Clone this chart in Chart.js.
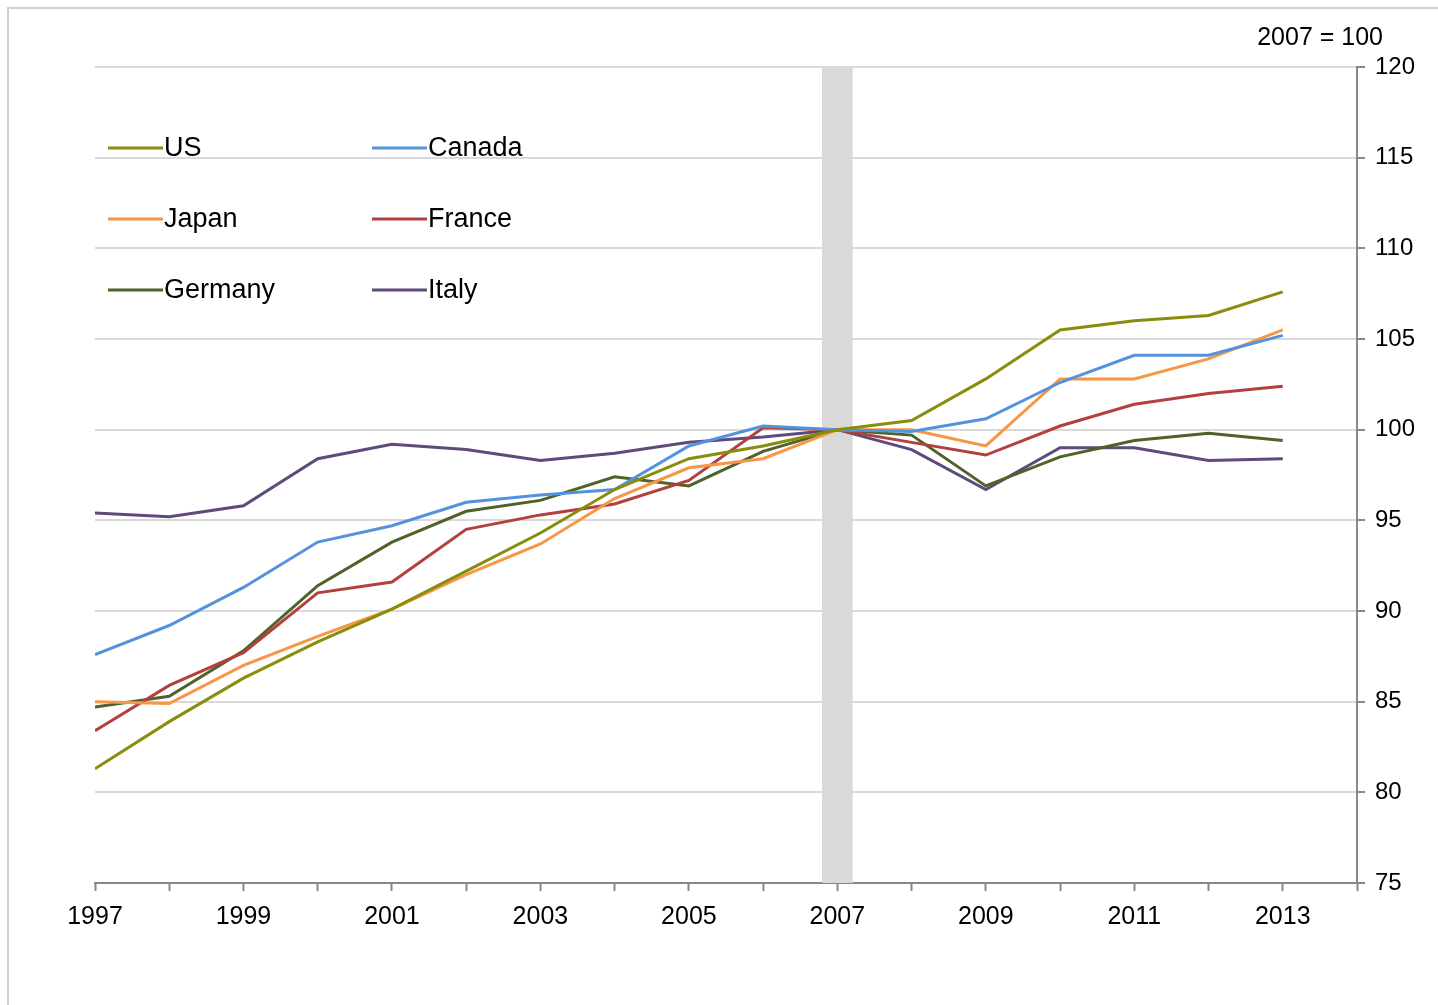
<!DOCTYPE html>
<html>
<head>
    <meta charset="utf-8" />
    <title>GDP index, 2007 = 100</title>
    <script src="https://cdn.jsdelivr.net/npm/chart.js@4.4.0/dist/chart.umd.min.js"></script>
    <style>
        body {
            margin: 0;
            background: #fff;
        }

        #frame {
            position: absolute;
            left: 7px;
            top: 7px;
            width: 1431px;
            height: 998px;
            border-left: 2px solid #d0d0d0;
            border-top: 2px solid #d0d0d0;
        }

        #wrap {
            position: absolute;
            left: 2px;
            top: 2px;
            width: 1420px;
            height: 992px;
        }
    </style>
</head>

<body>
    <div id="frame">
        <div id="wrap"><canvas id="myChart"></canvas></div>
    </div>
    <script>
        // years on the x axis, 2007 = 100
        var years = [1997, 1998, 1999, 2000, 2001, 2002, 2003, 2004, 2005, 2006, 2007, 2008, 2009, 2010, 2011, 2012, 2013];
        var tickYears = [1997, 1999, 2001, 2003, 2005, 2007, 2009, 2011, 2013];
        var baseYear = 2007;

        var US = [81.3, 83.9, 86.3, 88.3, 90.1, 92.2, 94.3, 96.7, 98.4, 99.1, 100, 100.5, 102.8, 105.5, 106.0, 106.3, 107.6];
        var Canada = [87.6, 89.2, 91.3, 93.8, 94.7, 96.0, 96.4, 96.7, 99.1, 100.2, 100, 99.9, 100.6, 102.6, 104.1, 104.1, 105.2];
        var Japan = [85.0, 84.9, 87.0, 88.6, 90.1, 92.0, 93.7, 96.2, 97.9, 98.4, 100, 100.0, 99.1, 102.8, 102.8, 103.9, 105.5];
        var France = [83.4, 85.9, 87.7, 91.0, 91.6, 94.5, 95.3, 95.9, 97.2, 100.1, 100, 99.3, 98.6, 100.2, 101.4, 102.0, 102.4];
        var Germany = [84.7, 85.3, 87.8, 91.4, 93.8, 95.5, 96.1, 97.4, 96.9, 98.8, 100, 99.7, 96.9, 98.5, 99.4, 99.8, 99.4];
        var Italy = [95.4, 95.2, 95.8, 98.4, 99.2, 98.9, 98.3, 98.7, 99.3, 99.6, 100, 98.9, 96.7, 99.0, 99.0, 98.3, 98.4];

        var names = ["US", "Canada", "Japan", "France", "Germany", "Italy"];
        var series = [US, Canada, Japan, France, Germany, Italy];
        var colors = ['#8a8c0c', '#5592dd', '#f79646', '#b2403f', '#4f6228', '#5f4a7b'];

        var yMin = 75, yMax = 120, yStep = 5;

        function points(vals) {
            return vals.map(function (v, i) { return { x: years[i], y: v }; });
        }

        var datasets = series.map(function (vals, i) {
            return {
                type: 'line',
                label: names[i],
                data: points(vals),
                borderColor: colors[i],
                backgroundColor: colors[i],
                borderWidth: 3,
                pointRadius: 0,
                tension: 0,
                order: 1
            };
        });

        // grey band marking the base year
        datasets.push({
            type: 'bar',
            label: 'base',
            data: [{ x: baseYear, y: [yMin, yMax] }],
            backgroundColor: '#d9d9d9',
            borderWidth: 0,
            barThickness: 30,
            order: 10
        });

        var font = "'Liberation Sans', Arial, sans-serif";

        // legend in two columns inside the plot + unit note
        var legendInPlot = {
            id: 'legendInPlot',
            afterDraw: function (chart) {
                var ctx = chart.ctx;
                var a = chart.chartArea;
                ctx.save();
                ctx.font = "27px " + font;
                ctx.textBaseline = 'middle';
                ctx.textAlign = 'left';
                for (var i = 0; i < names.length; i++) {
                    var col = i % 2, row = Math.floor(i / 2);
                    var x = a.left + 13 + col * 264;
                    var y = a.top + 81 + row * 71;
                    ctx.strokeStyle = colors[i];
                    ctx.lineWidth = 3;
                    ctx.beginPath();
                    ctx.moveTo(x, y);
                    ctx.lineTo(x + 55, y);
                    ctx.stroke();
                    ctx.fillStyle = '#000';
                    ctx.fillText(names[i], x + 56, y + 1);
                }
                ctx.font = "25px " + font;
                ctx.textAlign = 'right';
                ctx.fillText(baseYear + ' = 100', a.right + 26, a.top - 29);
                ctx.restore();
            }
        };

        new Chart(document.getElementById('myChart'), {
            data: { datasets: datasets },
            options: {
                responsive: true,
                maintainAspectRatio: false,
                animation: false,
                layout: { padding: { left: 84, top: 56, right: 0, bottom: 0 } },
                plugins: {
                    legend: { display: false },
                    tooltip: { enabled: false }
                },
                scales: {
                    x: {
                        type: 'linear',
                        offset: false,
                        min: years[0],
                        max: years[years.length - 1] + 1,
                        afterFit: function (s) { s.height = 120; },
                        afterBuildTicks: function (s) {
                            var t = [];
                            for (var y = s.min; y <= s.max; y++) t.push({ value: y });
                            s.ticks = t;
                        },
                        ticks: {
                            autoSkip: false,
                            maxRotation: 0,
                            padding: 11,
                            color: '#000',
                            font: { size: 25, family: font },
                            callback: function (v) { return tickYears.indexOf(v) >= 0 ? String(v) : ''; }
                        },
                        grid: { offset: false, drawOnChartArea: false, tickLength: 8, tickColor: '#888', tickWidth: 2 },
                        border: { color: '#888', width: 2 }
                    },
                    y: {
                        position: 'right',
                        min: yMin,
                        max: yMax,
                        afterFit: function (s) { s.width = 74; },
                        ticks: {
                            stepSize: yStep,
                            padding: 10,
                            color: '#000',
                            font: { size: 24, family: font }
                        },
                        grid: { color: '#d9d9d9', lineWidth: 2, tickLength: 8, tickColor: '#888', tickWidth: 2 },
                        border: { color: '#888', width: 2 }
                    }
                }
            },
            plugins: [legendInPlot]
        });
    </script>
</body>
</html>
